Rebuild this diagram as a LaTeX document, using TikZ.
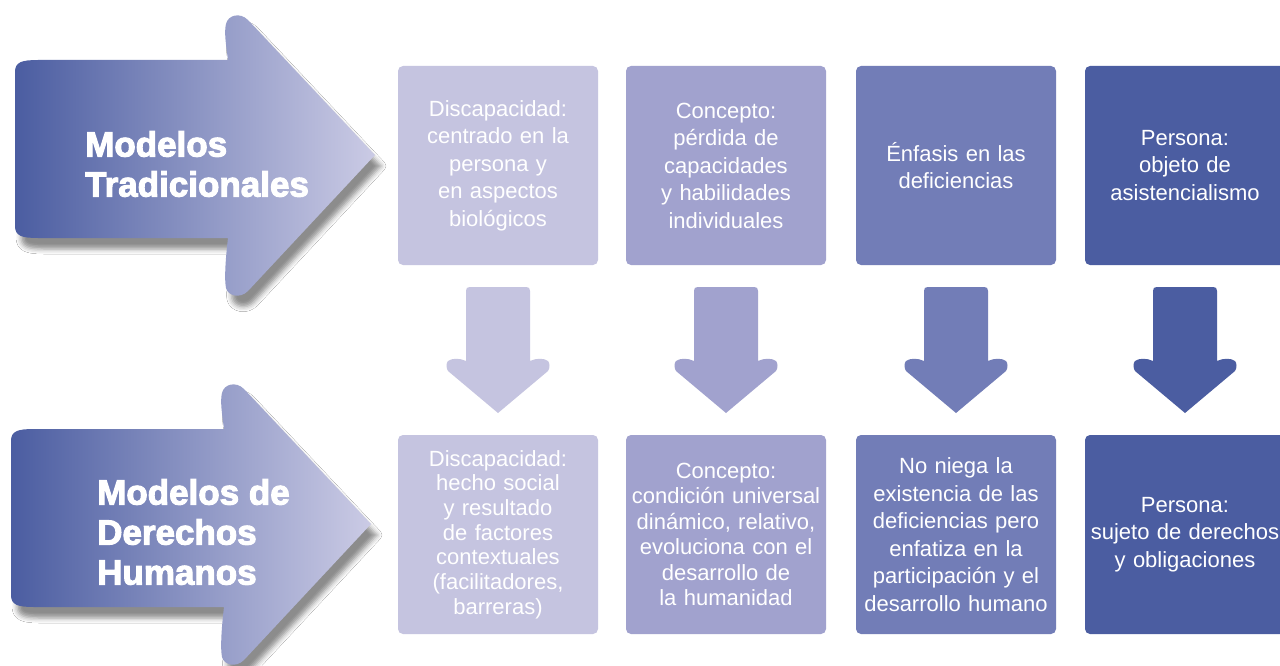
\documentclass[tikz,border=0pt]{standalone}
\usepackage{fontspec}
\setmainfont{Liberation Sans}
\newfontfamily\headfont{Liberation Sans Bold}[FakeBold=3]
\usetikzlibrary{shadows.blur}

\definecolor{tone1}{HTML}{C5C4E0}
\definecolor{tone2}{HTML}{A1A2CE}
\definecolor{tone3}{HTML}{727DB7}
\definecolor{tone4}{HTML}{4B5DA1}
\definecolor{tonemid}{HTML}{8A8FC2}
\definecolor{tonetip}{HTML}{CBCBE5}

\tikzset{
  infobox/.style={rounded corners=5pt, text=white, minimum width=200pt,
    minimum height=199pt, text width=192pt, align=center, inner sep=0pt,
    font=\fontsize{22}{27.5}\selectfont},
  bigarrow/.style={left color=tone4, middle color=tonemid, right color=tonetip,
    blur shadow={shadow xshift=6pt, shadow yshift=-11pt,
      shadow blur radius=5pt, shadow opacity=45}},
  headlabel/.style={anchor=north west, inner sep=0pt, text=white, align=left,
    font=\headfont\fontsize{35}{40}\selectfont}
}

\begin{document}
\begin{tikzpicture}[x=1pt,y=-1pt]
\useasboundingbox (0,0) rectangle (1280,666);
\fill[white] (0,0) rectangle (1280,666);

% big arrows
\begin{scope}
\path[bigarrow] (38,60) -- (228,60) .. controls (226,45) and (224,32) .. (226,24)
  .. controls (228,15) and (240,12) .. (248,20) -- (375,155) -- (248,291)
  .. controls (240,299) and (228,296) .. (226,288)
  .. controls (224,278) and (226,255) .. (228,238) -- (38,238)
  .. controls (22,238) and (15,236) .. (15,226) -- (15,72)
  .. controls (15,62) and (22,60) .. (38,60) -- cycle;
\node[headlabel] (tradlabel) at (85,131) {Modelos\\Tradicionales};
\end{scope}

\begin{scope}[shift={(-4,369)}]
\path[bigarrow] (38,60) -- (228,60) .. controls (226,45) and (224,32) .. (226,24)
  .. controls (228,15) and (240,12) .. (248,20) -- (375,155) -- (248,291)
  .. controls (240,299) and (228,296) .. (226,288)
  .. controls (224,278) and (226,255) .. (228,238) -- (38,238)
  .. controls (22,238) and (15,236) .. (15,226) -- (15,72)
  .. controls (15,62) and (22,60) .. (38,60) -- cycle;
\end{scope}
\node[headlabel] (dhlabel) at (97,479) {Modelos de\\Derechos\\Humanos};

% top row
\node[infobox, fill=tone1] (trad1) at (498,165.5) {Discapacidad:\\centrado en la\\persona y\\en aspectos\\biológicos};
\node[infobox, fill=tone2] (trad2) at (726,165.5) {Concepto:\\pérdida de\\capacidades\\y habilidades\\individuales};
\node[infobox, fill=tone3] (trad3) at (956,165.5) {Énfasis en las\\deficiencias};
\node[infobox, fill=tone4] (trad4) at (1185,165.5) {Persona:\\objeto de\\asistencialismo};

% down arrows
\foreach \x/\tone in {498/tone1, 726/tone2, 956/tone3, 1185/tone4}
  \fill[\tone, shift={(\x,0)}] (-32,291) .. controls (-32,288) and (-31,287) .. (-28,287)
    -- (28,287) .. controls (31,287) and (32,288) .. (32,291) -- (32,361)
    .. controls (38,358) and (46,358) .. (50,361) .. controls (52,363) and (52,368) .. (50,371)
    -- (0,413) -- (-50,371) .. controls (-52,368) and (-52,363) .. (-50,361)
    .. controls (-46,358) and (-38,358) .. (-32,361) -- cycle;

% bottom row
\node[infobox, fill=tone1, font=\fontsize{22}{24.7}\selectfont] (dh1) at (498,534.5) {Discapacidad:\\hecho social\\y resultado\\de factores\\contextuales\\(facilitadores,\\barreras)};
\node[infobox, fill=tone2, font=\fontsize{22}{25.4}\selectfont] (dh2) at (726,534.5) {Concepto:\\condición universal\\dinámico, relativo,\\evoluciona con el\\desarrollo de\\la humanidad};
\node[infobox, fill=tone3] (dh3) at (956,534.5) {No niega la\\existencia de las\\deficiencias pero\\enfatiza en la\\participación y el\\desarrollo humano};
\node[infobox, fill=tone4] (dh4) at (1185,534.5) {Persona:\\sujeto de derechos\\y obligaciones};

\end{tikzpicture}
\end{document}
